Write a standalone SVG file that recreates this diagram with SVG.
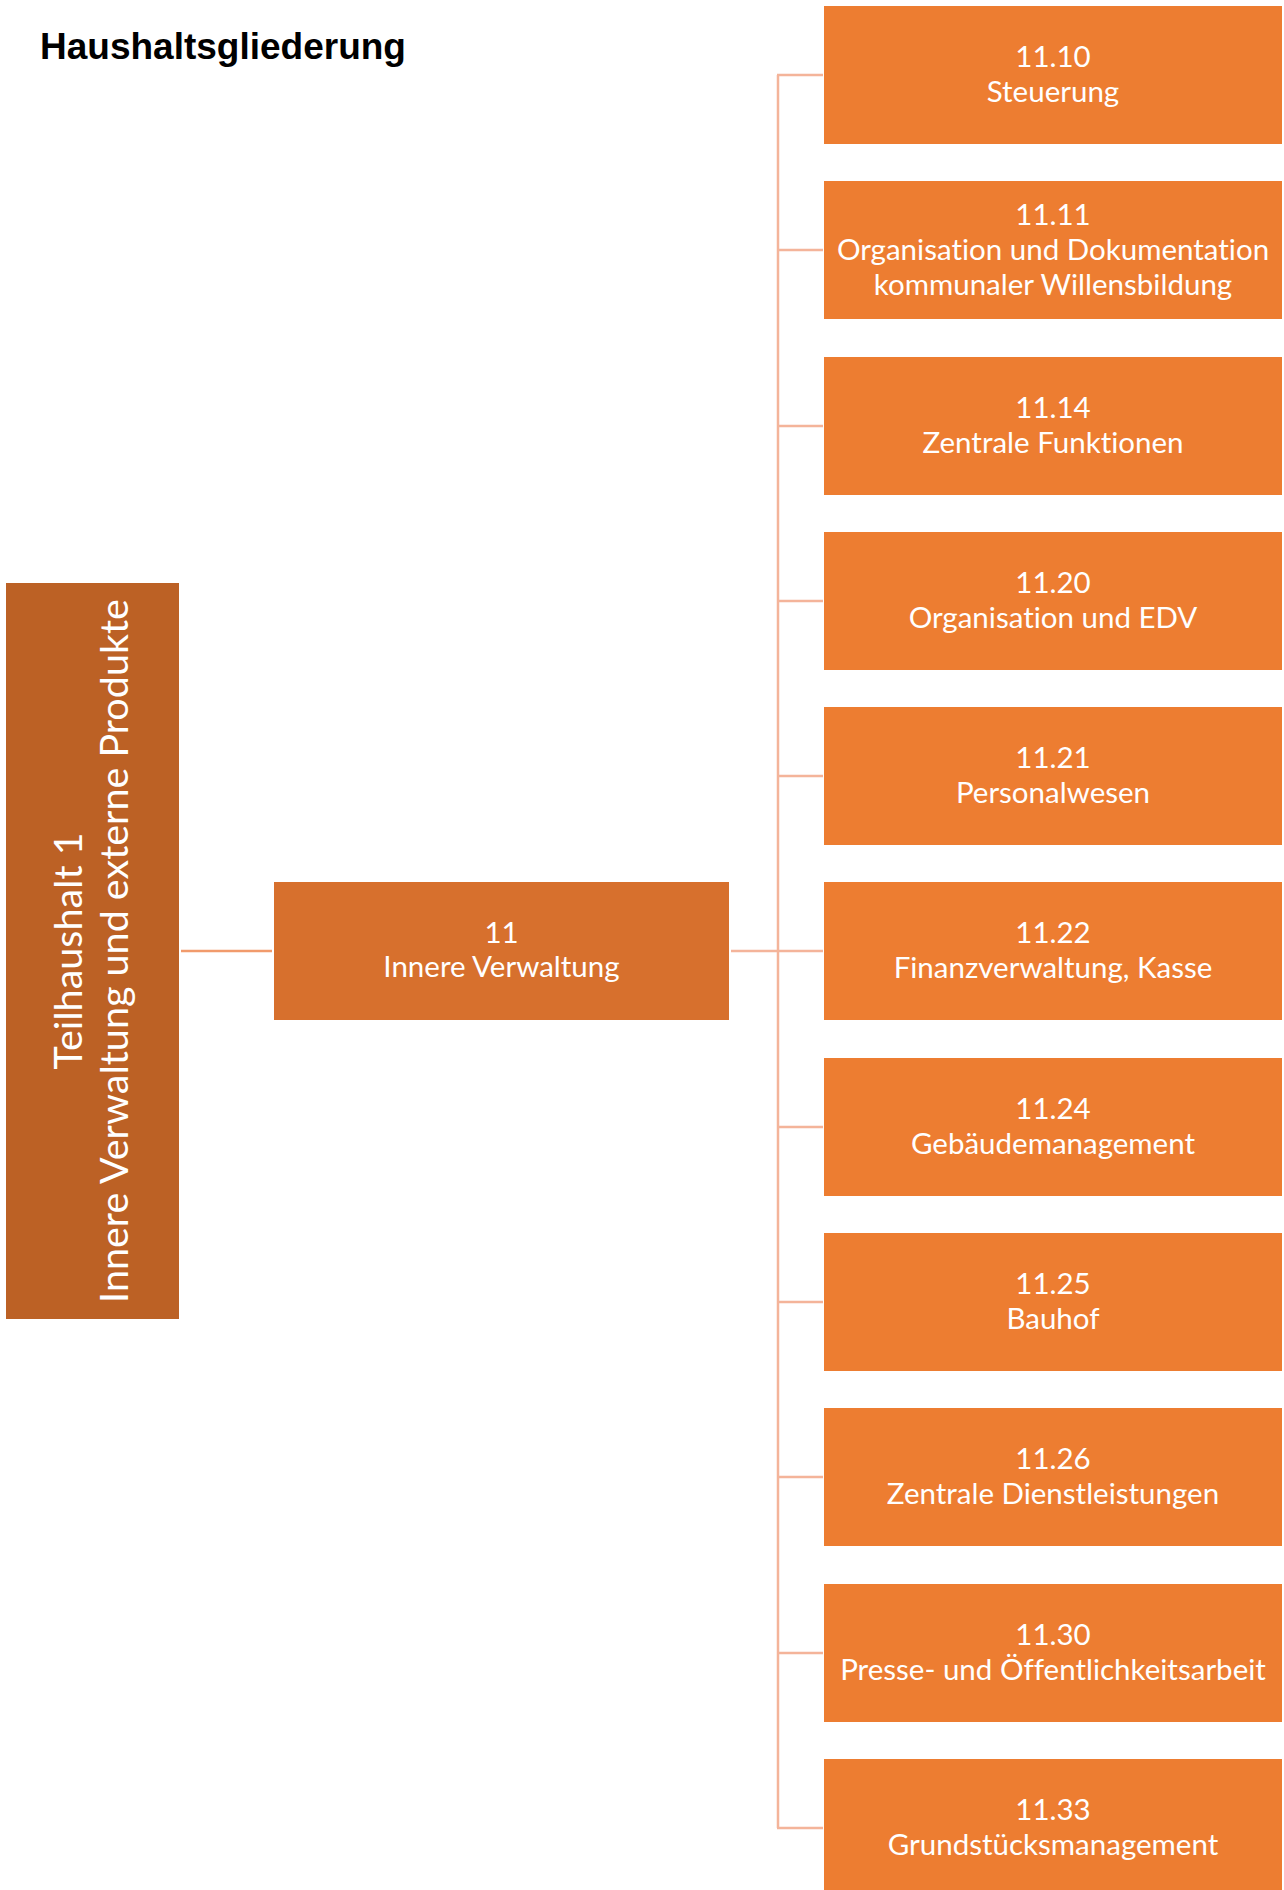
<svg xmlns="http://www.w3.org/2000/svg" width="1284" height="1890" viewBox="0 0 1284 1890">
<style>
.child{fill:#ED7D31}
.t{font-family:Lato,"Open Sans","Liberation Sans",sans-serif;font-size:29.5px;fill:#FFFFFF;text-anchor:middle;font-variant-ligatures:none}
.v{font-family:Lato,"Open Sans","Liberation Sans",sans-serif;font-size:39.5px;fill:#FFFFFF;text-anchor:middle;font-variant-ligatures:none}
.c{stroke:#F4B49A;stroke-width:2.5;fill:none}
</style>
<rect width="1284" height="1890" fill="#FFFFFF"/>
<text x="40" y="59" font-family="Liberation Sans,Arial,sans-serif" font-size="37" font-weight="bold" fill="#000000">Haushaltsgliederung</text>
<g id="connectors">
<line x1="181" y1="951" x2="272" y2="951" stroke="#F19B6C" stroke-width="2.5"/>
<line class="c" x1="731" y1="951" x2="778" y2="951"/>
<line class="c" x1="778" y1="75" x2="778" y2="1828"/>
<line class="c" x1="777" y1="75" x2="823" y2="75"/>
<line class="c" x1="778" y1="250" x2="823" y2="250"/>
<line class="c" x1="778" y1="426" x2="823" y2="426"/>
<line class="c" x1="778" y1="601" x2="823" y2="601"/>
<line class="c" x1="778" y1="776" x2="823" y2="776"/>
<line class="c" x1="778" y1="951" x2="823" y2="951"/>
<line class="c" x1="778" y1="1127" x2="823" y2="1127"/>
<line class="c" x1="778" y1="1302" x2="823" y2="1302"/>
<line class="c" x1="778" y1="1477" x2="823" y2="1477"/>
<line class="c" x1="778" y1="1653" x2="823" y2="1653"/>
<line class="c" x1="777" y1="1828" x2="823" y2="1828"/>
</g>
<g id="root">
<rect x="6" y="583" width="173" height="736" fill="#BC6125"/>
<g transform="rotate(-90)">
<text class="v" x="-951" y="82">Teilhaushalt 1</text>
<text class="v" x="-951" y="128">Innere Verwaltung und externe Produkte</text>
</g>
</g>
<g id="n11">
<rect x="274" y="882" width="455" height="138" fill="#D7702D"/>
<text class="t" x="501.5" y="943">11</text>
<text class="t" x="501.5" y="977">Innere Verwaltung</text>
</g>
<g id="n1110">
<rect class="child" x="824" y="6" width="458" height="138"/>
<text class="t" x="1053" y="67">11.10</text>
<text class="t" x="1053" y="102">Steuerung</text>
</g>
<g id="n1111">
<rect class="child" x="824" y="181" width="458" height="138"/>
<text class="t" x="1053" y="225">11.11</text>
<text class="t" x="1053" y="260">Organisation und Dokumentation</text>
<text class="t" x="1053" y="295">kommunaler Willensbildung</text>
</g>
<g id="n1114">
<rect class="child" x="824" y="357" width="458" height="138"/>
<text class="t" x="1053" y="418">11.14</text>
<text class="t" x="1053" y="453">Zentrale Funktionen</text>
</g>
<g id="n1120">
<rect class="child" x="824" y="532" width="458" height="138"/>
<text class="t" x="1053" y="593">11.20</text>
<text class="t" x="1053" y="628">Organisation und EDV</text>
</g>
<g id="n1121">
<rect class="child" x="824" y="707" width="458" height="138"/>
<text class="t" x="1053" y="768">11.21</text>
<text class="t" x="1053" y="803">Personalwesen</text>
</g>
<g id="n1122">
<rect class="child" x="824" y="882" width="458" height="138"/>
<text class="t" x="1053" y="943">11.22</text>
<text class="t" x="1053" y="978">Finanzverwaltung, Kasse</text>
</g>
<g id="n1124">
<rect class="child" x="824" y="1058" width="458" height="138"/>
<text class="t" x="1053" y="1119">11.24</text>
<text class="t" x="1053" y="1154">Gebäudemanagement</text>
</g>
<g id="n1125">
<rect class="child" x="824" y="1233" width="458" height="138"/>
<text class="t" x="1053" y="1294">11.25</text>
<text class="t" x="1053" y="1329">Bauhof</text>
</g>
<g id="n1126">
<rect class="child" x="824" y="1408" width="458" height="138"/>
<text class="t" x="1053" y="1469">11.26</text>
<text class="t" x="1053" y="1504">Zentrale Dienstleistungen</text>
</g>
<g id="n1130">
<rect class="child" x="824" y="1584" width="458" height="138"/>
<text class="t" x="1053" y="1645">11.30</text>
<text class="t" x="1053" y="1680">Presse- und Öffentlichkeitsarbeit</text>
</g>
<g id="n1133">
<rect class="child" x="824" y="1759" width="458" height="138"/>
<text class="t" x="1053" y="1820">11.33</text>
<text class="t" x="1053" y="1855">Grundstücksmanagement</text>
</g>
</svg>
